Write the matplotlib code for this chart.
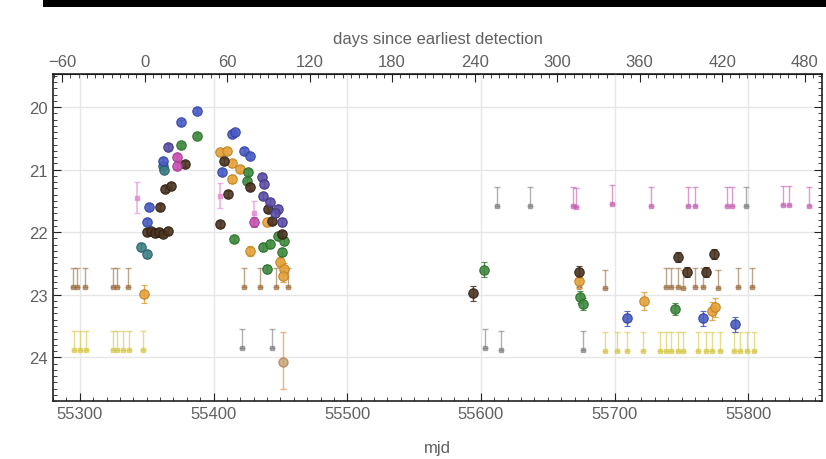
import matplotlib
matplotlib.use("Agg")
import matplotlib.pyplot as plt
from matplotlib.ticker import MultipleLocator, FixedLocator

# detections (mjd, mag, err) per colour group
blue_mjd = [55388, 55376, 55362, 55352, 55350, 55414, 55416, 55423, 55427, 55406, 55709, 55766, 55790]
blue_mag = [20.06, 20.24, 20.86, 21.60, 21.84, 20.43, 20.40, 20.70, 20.78, 21.04, 23.38, 23.38, 23.47]
blue_err = [0.04, 0.04, 0.05, 0.05, 0.05, 0.04, 0.04, 0.05, 0.05, 0.05, 0.12, 0.12, 0.12]

purple_mjd = [55366, 55436, 55438, 55437, 55442, 55448, 55446, 55451]
purple_mag = [20.64, 21.12, 21.23, 21.42, 21.52, 21.63, 21.70, 21.84]
purple_err = [0.05, 0.05, 0.05, 0.05, 0.05, 0.06, 0.06, 0.06]

green_mjd = [55388, 55376, 55426, 55425, 55415, 55448, 55453, 55437, 55442, 55451, 55440, 55602, 55674, 55676, 55745]
green_mag = [20.46, 20.61, 21.04, 21.18, 22.11, 22.06, 22.14, 22.24, 22.19, 22.32, 22.59, 22.60, 23.04, 23.15, 23.23]
green_err = [0.04, 0.04, 0.05, 0.05, 0.05, 0.06, 0.06, 0.06, 0.06, 0.06, 0.07, 0.12, 0.1, 0.1, 0.1]

teal_mjd = [55362, 55363, 55346, 55350]
teal_mag = [20.94, 21.00, 22.24, 22.35]
teal_err = [0.05, 0.05, 0.06, 0.06]

brown_mjd = [55379, 55364, 55368, 55360, 55350, 55353, 55356, 55359, 55362, 55366,
             55408, 55427, 55411, 55441, 55444, 55405, 55451, 55594, 55673, 55747, 55754, 55768, 55774]
brown_mag = [20.91, 21.31, 21.26, 21.60, 22.00, 21.98, 22.02, 21.99, 22.03, 21.98,
             20.86, 21.28, 21.39, 21.63, 21.82, 21.87, 22.03, 22.98, 22.64, 22.40, 22.64, 22.64, 22.35]
brown_err = [0.05] * 17 + [0.12, 0.1, 0.08, 0.08, 0.08, 0.08]

orange_mjd = [55405, 55410, 55414, 55420, 55414, 55440, 55427, 55450, 55453, 55452, 55348, 55673, 55722, 55773, 55775]
orange_mag = [20.72, 20.70, 20.90, 20.99, 21.15, 21.84, 22.30, 22.48, 22.59, 22.70, 22.99, 22.78, 23.10, 23.26, 23.20]
orange_err = [0.05, 0.05, 0.05, 0.05, 0.06, 0.06, 0.08, 0.08, 0.1, 0.1, 0.15, 0.12, 0.15, 0.15, 0.15]

faint_orange_mjd = [55452]
faint_orange_mag = [24.08]
faint_orange_lo = [0.48]
faint_orange_hi = [0.43]

magenta_mjd = [55373, 55373, 55430]
magenta_mag = [20.80, 20.94, 21.84]
magenta_err = [0.05, 0.05, 0.08]

pink_mjd = [55343, 55405, 55430]
pink_mag = [21.45, 21.42, 21.70]
pink_err = [0.25, 0.2, 0.2]

# upper limits
lim_brown_mjd = [55295, 55298, 55304, 55325, 55328, 55336, 55423, 55435, 55447, 55456,
                 55673, 55693, 55738, 55742, 55747, 55751, 55760, 55766, 55777, 55792, 55803]
lim_brown_mag = [22.87, 22.87, 22.88, 22.87, 22.87, 22.88, 22.88, 22.88, 22.87, 22.88,
                 22.88, 22.9, 22.88, 22.88, 22.88, 22.9, 22.88, 22.88, 22.9, 22.88, 22.88]

lim_yellow_mjd = [55296, 55300, 55305, 55325, 55328, 55332, 55337, 55347,
                  55693, 55702, 55709, 55721, 55734, 55738, 55742, 55747, 55751,
                  55762, 55768, 55773, 55779, 55789, 55794, 55799, 55804]
lim_yellow_mag = [23.88, 23.88, 23.88, 23.88, 23.88, 23.88, 23.88, 23.88,
                  23.9, 23.9, 23.9, 23.9, 23.9, 23.9, 23.9, 23.9, 23.9,
                  23.9, 23.9, 23.9, 23.9, 23.9, 23.9, 23.9, 23.9]

lim_gray_mjd = [55421, 55444, 55603, 55615, 55676, 55612, 55637, 55798]
lim_gray_mag = [23.85, 23.85, 23.85, 23.88, 23.88, 21.58, 21.58, 21.58]

lim_pink_mjd = [55669, 55671, 55698, 55727, 55755, 55760, 55784, 55788, 55826, 55830, 55845]
lim_pink_mag = [21.58, 21.6, 21.55, 21.58, 21.58, 21.58, 21.58, 21.58, 21.56, 21.56, 21.58]

top_ticks = [-60, 0, 60, 120, 180, 240, 300, 360, 420, 480]

t0 = 55348.5
stretch = 1.028

plt.rcParams['font.family'] = ['Liberation Sans', 'DejaVu Sans']

fig = plt.figure(figsize=(8.26, 4.6), dpi=100)
ax = fig.add_axes([0.0642, 0.126, 0.931, 0.711])

# black strip at the very top
fig.patches.append(plt.Rectangle((0.052, 0.982), 0.948, 0.018, transform=fig.transFigure,
                                 facecolor='black', edgecolor='none'))


def limits(x, y, color):
    ax.errorbar(x, y, yerr=[[0.3] * len(x), [0] * len(x)], fmt='s', ms=3.5, color=color,
                mec=color, ecolor=color, elinewidth=1, capsize=2, alpha=0.6, zorder=2)


def points(x, y, err, color, edge, ms=6.8):
    ax.errorbar(x, y, yerr=err, fmt='o', ms=ms, mfc=color, mec=edge, mew=0.8,
                ecolor=color, elinewidth=1, capsize=2, alpha=0.9, zorder=3)


limits(lim_brown_mjd, lim_brown_mag, '#9a6a3a')
limits(lim_yellow_mjd, lim_yellow_mag, '#d4c640')
limits(lim_gray_mjd, lim_gray_mag, '#7a7a7a')
limits(lim_pink_mjd, lim_pink_mag, '#c45cb0')

ax.errorbar(pink_mjd, pink_mag, yerr=pink_err, fmt='s', ms=3.5, color='#e48ad0',
            ecolor='#e9a0dc', elinewidth=1.2, capsize=2, alpha=0.8, zorder=2)
ax.errorbar(faint_orange_mjd, faint_orange_mag, yerr=[faint_orange_lo, faint_orange_hi], fmt='o',
            ms=6.5, mfc='#c8a070', mec='#b08050', ecolor='#e8a060', elinewidth=1, capsize=2,
            alpha=0.8, zorder=3)

points(orange_mjd, orange_mag, orange_err, '#e3a23a', '#c08020')
points(green_mjd, green_mag, green_err, '#3e8a3e', '#2a6a2a')
points(teal_mjd, teal_mag, teal_err, '#3c7f86', '#2a5f66')
points(brown_mjd, brown_mag, brown_err, '#4b3522', '#2e1e10')
points(magenta_mjd, magenta_mag, magenta_err, '#c84fb0', '#a03890')
points(purple_mjd, purple_mag, purple_err, '#5b4fa8', '#3e3480')
points(blue_mjd, blue_mag, blue_err, '#4a5cc4', '#3040a0')

ax.set_xlim(55280, 55855)
ax.set_ylim(24.7, 19.47)

ax.xaxis.set_major_locator(MultipleLocator(100))
ax.xaxis.set_minor_locator(MultipleLocator(10))
ax.yaxis.set_major_locator(MultipleLocator(1))
ax.yaxis.set_minor_locator(MultipleLocator(0.1))
ax.grid(True, which='major', color='#e6e6e6', linewidth=1)
ax.set_axisbelow(True)

grey = '#606060'
ax.tick_params(which='both', direction='in', right=True, top=False, labelsize=12, colors='#222222',
               labelcolor=grey)
ax.tick_params(which='major', length=6)
ax.tick_params(which='minor', length=3)
ax.set_xlabel('mjd', fontsize=12, color=grey, labelpad=14)

top = ax.secondary_xaxis('top', functions=(lambda m: (m - t0) / stretch, lambda d: d * stretch + t0))
top.xaxis.set_major_locator(FixedLocator(top_ticks))
top.xaxis.set_minor_locator(MultipleLocator(6))
top.tick_params(which='both', direction='in', labelsize=12, colors='#222222', labelcolor=grey)
top.tick_params(which='major', length=6)
top.tick_params(which='minor', length=3)
top.set_xlabel('days since earliest detection', fontsize=12, color=grey, labelpad=8)

for s in ax.spines.values():
    s.set_color('#222222')
    s.set_linewidth(1.2)

fig.savefig('out.png', dpi=100)
